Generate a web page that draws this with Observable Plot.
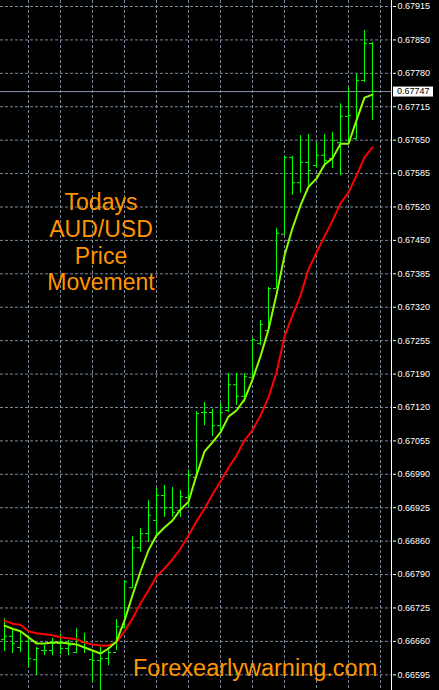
<!DOCTYPE html>
<html><head><meta charset="utf-8">
<script src="https://cdn.jsdelivr.net/npm/d3@7"></script>
<script src="https://cdn.jsdelivr.net/npm/@observablehq/plot@0.6"></script>
<style>html,body{margin:0;padding:0;background:#000;} #chart{width:439px;height:690px;}</style>
</head><body><div id="chart"></div>
<script>
const tickLabels = ["0.66595","0.66660","0.66725","0.66790","0.66860","0.66925","0.66990","0.67055","0.67120","0.67190","0.67255","0.67320","0.67385","0.67450","0.67520","0.67585","0.67650","0.67715","0.67780","0.67850","0.67915"];
const currentPrice = 0.67747;
const open  = [0.66665,0.66671,0.66649,0.66661,0.66625,0.66643,0.66643,0.66657,0.66647,0.66639,0.66659,0.66625,0.66623,0.66627,0.66639,0.66688,0.66767,0.66846,0.66874,0.66900,0.66949,0.66925,0.66920,0.66945,0.66985,0.67113,0.67113,0.67087,0.67117,0.67168,0.67145,0.67182,0.67249,0.67275,0.67358,0.67465,0.67617,0.67567,0.67607,0.67601,0.67621,0.67615,0.67646,0.67698,0.67654,0.67769,0.67842];
const high  = [0.66706,0.66686,0.66679,0.66669,0.66649,0.66653,0.66667,0.66675,0.66663,0.66686,0.66677,0.66639,0.66649,0.66649,0.66704,0.66781,0.66868,0.66884,0.66939,0.66963,0.66969,0.66965,0.66959,0.67000,0.67115,0.67133,0.67119,0.67131,0.67190,0.67190,0.67190,0.67259,0.67295,0.67360,0.67477,0.67619,0.67619,0.67660,0.67662,0.67646,0.67662,0.67666,0.67723,0.67755,0.67781,0.67868,0.67844];
const low   = [0.66641,0.66637,0.66639,0.66609,0.66594,0.66633,0.66633,0.66635,0.66633,0.66637,0.66637,0.66580,0.66564,0.66613,0.66643,0.66686,0.66765,0.66837,0.66856,0.66870,0.66906,0.66906,0.66906,0.66925,0.66983,0.67087,0.67066,0.67074,0.67113,0.67127,0.67133,0.67180,0.67245,0.67271,0.67358,0.67463,0.67542,0.67546,0.67561,0.67595,0.67597,0.67595,0.67581,0.67644,0.67652,0.67765,0.67690];
const close = [0.66671,0.66657,0.66661,0.66627,0.66647,0.66643,0.66657,0.66647,0.66653,0.66663,0.66649,0.66623,0.66627,0.66639,0.66690,0.66779,0.66846,0.66874,0.66910,0.66949,0.66925,0.66916,0.66947,0.66989,0.67111,0.67113,0.67087,0.67113,0.67168,0.67145,0.67184,0.67257,0.67287,0.67358,0.67467,0.67617,0.67567,0.67607,0.67591,0.67621,0.67611,0.67650,0.67698,0.67700,0.67769,0.67842,0.67747];
const maFast = [0.66692,0.66686,0.66681,0.66669,0.66657,0.66657,0.66659,0.66659,0.66657,0.66655,0.66649,0.66643,0.66637,0.66647,0.66661,0.66702,0.66752,0.66799,0.66841,0.66870,0.66886,0.66900,0.66921,0.66937,0.66989,0.67036,0.67054,0.67074,0.67105,0.67117,0.67139,0.67178,0.67224,0.67277,0.67346,0.67423,0.67477,0.67522,0.67559,0.67575,0.67603,0.67615,0.67644,0.67644,0.67690,0.67735,0.67741];
const maSlow = [0.66702,0.66696,0.66694,0.66681,0.66677,0.66675,0.66673,0.66669,0.66667,0.66665,0.66659,0.66655,0.66653,0.66653,0.66659,0.66681,0.66706,0.66736,0.66762,0.66789,0.66805,0.66823,0.66844,0.66870,0.66898,0.66923,0.66951,0.66977,0.67004,0.67028,0.67058,0.67078,0.67107,0.67143,0.67192,0.67263,0.67305,0.67344,0.67396,0.67429,0.67461,0.67492,0.67526,0.67548,0.67581,0.67617,0.67637];
const titleLines = ["Todays","AUD/USD","Price","Movement"];
const siteText = "Forexearlywarning.com";

const bars = high.map((h, i) => ({i, open: open[i], high: h, low: low[i], close: close[i], fast: maFast[i], slow: maSlow[i]}));
const lo = +tickLabels[0], hi = +tickLabels[tickLabels.length - 1];
const tickValues = tickLabels.map((s, i) => lo + i * (hi - lo) / (tickLabels.length - 1));
const gridX = d3.range(3, 48, 4);
const gridColor = "#7a8899";
const barColor = "#00ff00";
const font = "'Liberation Sans', Arial, sans-serif";

const chart = Plot.plot({
  width: 439, height: 690,
  marginTop: 0, marginBottom: 0, marginLeft: 0, marginRight: 47,
  style: {background: "#000", color: "#fff", fontFamily: font, fontSize: "9px"},
  x: {domain: [-0.5, 48.5], axis: null},
  y: {domain: [lo, hi], range: [674.3, 6], axis: null},
  marks: [
    Plot.ruleY(tickValues, {stroke: gridColor, strokeDasharray: "3,2"}),
    Plot.ruleX(gridX, {stroke: gridColor, strokeDasharray: "3,2"}),
    Plot.ruleY([currentPrice], {stroke: "#8a97a6"}),
    Plot.ruleX(bars, {x: "i", y1: "low", y2: "high", stroke: barColor}),
    Plot.ruleY(bars, {y: "open", x1: d => d.i - 0.375, x2: "i", stroke: barColor}),
    Plot.ruleY(bars, {y: "close", x1: "i", x2: d => d.i + 0.375, stroke: barColor}),
    Plot.line(bars, {x: "i", y: "slow", stroke: "#ff0000", strokeWidth: 2}),
    Plot.line(bars, {x: "i", y: "fast", stroke: "#88ff00", strokeWidth: 2}),
    Plot.ruleX([48.375], {stroke: "#fff"}),
    Plot.axisY(tickValues, {anchor: "right", tickSize: 3, tickPadding: 2,
      tickFormat: d => tickLabels[tickValues.indexOf(d)], stroke: "#fff", fill: "#fff"})
  ]
});
document.getElementById("chart").appendChild(chart);

const svg = d3.select(chart);
const yPix = chart.scale("y").apply(currentPrice);
const g = svg.append("g");
g.append("rect").attr("x", 393).attr("y", yPix - 4.5).attr("width", 40).attr("height", 10).attr("fill", "#fff");
g.append("text").attr("x", 397).attr("y", yPix + 0.5).attr("dy", "0.32em").attr("text-anchor", "start")
  .attr("font-size", 9).attr("fill", "#000").attr("font-family", font)
  .text(currentPrice.toFixed(5));

const t = svg.append("g").attr("fill", "#ff9500").attr("font-family", font);
titleLines.forEach((s, k) => {
  t.append("text").attr("x", 101).attr("y", 210 + k * 26.8).attr("text-anchor", "middle").attr("font-size", 23).text(s);
});
t.append("text").attr("x", 133).attr("y", 676).attr("text-anchor", "start").attr("font-size", 23.5).text(siteText);
</script>
</body></html>
